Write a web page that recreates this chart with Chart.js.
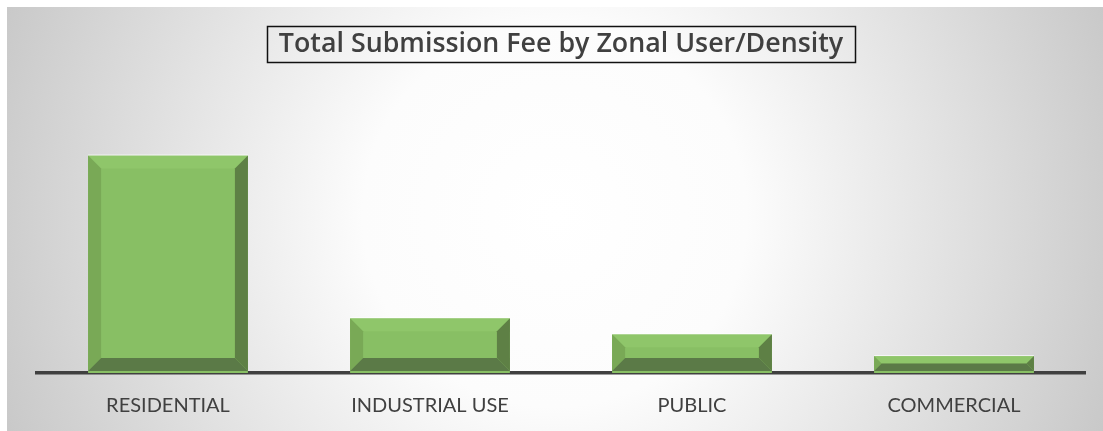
<!DOCTYPE html>
<html>
<head>
<meta charset="utf-8">
<script src="https://cdn.jsdelivr.net/npm/chart.js@4"></script>
<style>
  html, body { margin: 0; padding: 0; background: #ffffff; }
  #wrap { width: 1103px; height: 431px; }
</style>
</head>
<body>
<div id="wrap"><canvas id="c" width="1103" height="431"></canvas></div>
<script>
const categories = ["RESIDENTIAL", "INDUSTRIAL USE", "PUBLIC", "COMMERCIAL"];
const feeValues = [13.5, 3.4, 2.4, 1.05];
const chartTitle = "Total Submission Fee by Zonal User/Density";

const bgPlugin = {
  id: 'bgPlugin',
  beforeDraw(chart) {
    const ctx = chart.ctx;
    ctx.save();
    ctx.fillStyle = '#ffffff';
    ctx.fillRect(0, 0, chart.width, chart.height);
    const g = ctx.createRadialGradient(555, 215, 0, 555, 215, 640);
    g.addColorStop(0, '#ffffff');
    g.addColorStop(0.3, '#fcfcfc');
    g.addColorStop(1, '#c2c2c2');
    ctx.fillStyle = g;
    ctx.fillRect(7, 7, chart.width - 7, chart.height - 7);
    ctx.restore();
  }
};

const titleBoxPlugin = {
  id: 'titleBox',
  afterDraw(chart) {
    const tb = chart.titleBlock;
    if (!tb) return;
    const ctx = chart.ctx;
    const opts = chart.options.plugins.title;
    ctx.save();
    ctx.font = `${opts.font.weight} ${opts.font.size}px ${opts.font.family}`;
    const w = ctx.measureText(chartTitle).width;
    const cx = (tb.left + tb.right) / 2;
    const cy = 44;
    ctx.strokeStyle = '#111111';
    ctx.lineWidth = 1.5;
    ctx.strokeRect(Math.round(cx - w / 2 - 12) + 0.5, Math.round(cy - 18) + 0.5, Math.round(w + 24), 36);
    ctx.restore();
  }
};

const bevelPlugin = {
  id: 'bevel',
  afterDatasetsDraw(chart) {
    const ctx = chart.ctx;
    const meta = chart.getDatasetMeta(0);
    ctx.save();
    meta.data.forEach(bar => {
      const p = bar.getProps(['x', 'y', 'base', 'width'], true);
      const l = p.x - p.width / 2, r = p.x + p.width / 2;
      const t = p.y, b = p.base - 2;
      const h = b - t;
      const bv = Math.min(13, h / 2);
      ctx.fillStyle = '#8fc66a';
      ctx.beginPath(); ctx.moveTo(l, t); ctx.lineTo(r, t); ctx.lineTo(r - bv, t + bv); ctx.lineTo(l + bv, t + bv); ctx.closePath(); ctx.fill();
      ctx.fillStyle = '#79a956';
      ctx.beginPath(); ctx.moveTo(l, t); ctx.lineTo(l + bv, t + bv); ctx.lineTo(l + bv, b - bv); ctx.lineTo(l, b); ctx.closePath(); ctx.fill();
      ctx.fillStyle = '#5e8045';
      ctx.beginPath(); ctx.moveTo(r, t); ctx.lineTo(r, b); ctx.lineTo(r - bv, b - bv); ctx.lineTo(r - bv, t + bv); ctx.closePath(); ctx.fill();
      ctx.fillStyle = '#5b7a47';
      ctx.beginPath(); ctx.moveTo(l, b); ctx.lineTo(l + bv, b - bv); ctx.lineTo(r - bv, b - bv); ctx.lineTo(r, b); ctx.closePath(); ctx.fill();
      ctx.fillStyle = 'rgba(255,255,255,0.7)';
      ctx.fillRect(l, t - 1, p.width, 1);
    });
    ctx.restore();
  }
};

new Chart(document.getElementById('c'), {
  type: 'bar',
  data: {
    labels: categories,
    datasets: [{
      data: feeValues,
      backgroundColor: '#88bf64',
      borderWidth: 0,
      barPercentage: 0.61,
      categoryPercentage: 1.0
    }]
  },
  options: {
    responsive: false,
    animation: false,
    devicePixelRatio: 1,
    layout: { padding: { left: 37, right: 18, top: 0, bottom: 0 } },
    plugins: {
      legend: { display: false },
      tooltip: { enabled: false },
      title: {
        display: true,
        text: chartTitle,
        color: '#404040',
        font: { family: 'Open Sans', size: 26.8, weight: '600', lineHeight: 1.2 },
        padding: { top: 28, bottom: 39 }
      }
    },
    scales: {
      x: {
        grid: { display: false, drawTicks: false },
        border: { display: true, color: '#404040', width: 3.5 },
        ticks: { color: '#404040', font: { family: 'Lato', size: 20 }, padding: 21 },
        afterFit(scale) { scale.height = 58; }
      },
      y: {
        display: false,
        min: 0,
        max: 17
      }
    }
  },
  plugins: [bgPlugin, titleBoxPlugin, bevelPlugin]
});
</script>
</body>
</html>
